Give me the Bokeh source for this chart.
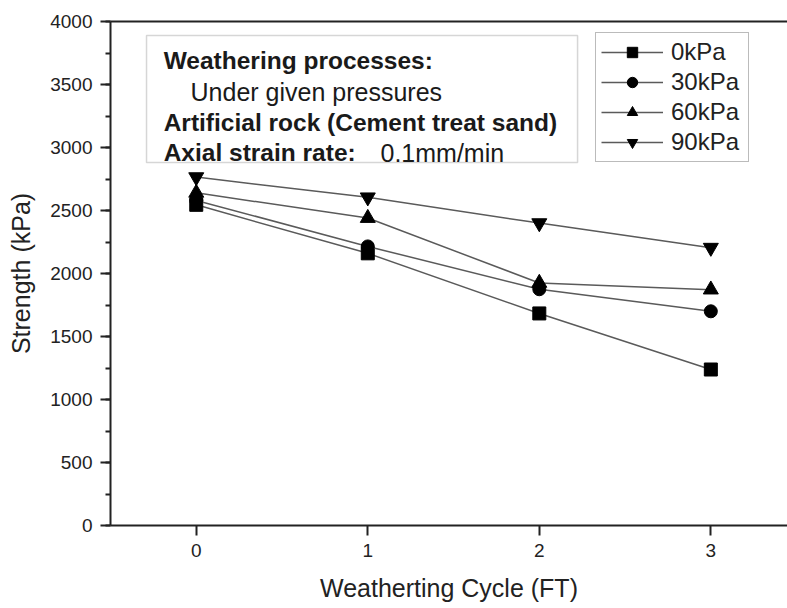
from bokeh.plotting import figure
from bokeh.models import (Range1d, LinearAxis, FixedTicker, SingleIntervalTicker,
                          BoxAnnotation, Label, Legend, LegendItem)
from bokeh.embed import file_html
from bokeh.resources import INLINE

# ---- data ----
cycles = [0, 1, 2, 3]
s_0kpa = [2545, 2160, 1683, 1238]
s_30kpa = [2580, 2215, 1875, 1700]
s_60kpa = [2640, 2440, 1925, 1872]
s_90kpa = [2765, 2605, 2400, 2205]
series_labels = ["0kPa", "30kPa", "60kPa", "90kPa"]
markers = ["square", "circle", "triangle", "inverted_triangle"]
y_ticks_major = 500
x_ticks = [0, 1, 2, 3]
box_lines = ["Weathering processes:", "Under given pressures",
             "Artificial rock (Cement treat sand)", "Axial strain rate:"]
rate_text = "0.1mm/min"

FONT = "Liberation Sans"

p = figure(width=787, height=608, output_backend="svg", toolbar_location=None,
           x_range=Range1d(-0.5, 3.447), y_range=Range1d(0, 4000),
           min_border_left=110, min_border_right=0, min_border_top=21,
           min_border_bottom=83)
p.outline_line_color = None
p.xgrid.visible = False
p.ygrid.visible = False
p.background_fill_color = "white"
p.border_fill_color = "white"

# axes styling
for ax in (p.xaxis[0], p.yaxis[0]):
    ax.axis_line_width = 2
    ax.axis_line_color = "#222222"
    ax.major_tick_line_width = 2
    ax.major_tick_line_color = "#222222"
    ax.minor_tick_line_width = 2
    ax.minor_tick_line_color = "#222222"
    ax.major_tick_in = 0
    ax.major_tick_out = 10
    ax.minor_tick_in = 0
    ax.minor_tick_out = 5
    ax.major_label_text_font = FONT
    ax.major_label_text_font_size = "19px"
    ax.major_label_text_color = "#222222"
    ax.axis_label_text_font = FONT
    ax.axis_label_text_font_size = "25px"
    ax.axis_label_text_font_style = "normal"
    ax.axis_label_text_color = "#222222"

p.xaxis[0].ticker = FixedTicker(ticks=x_ticks, minor_ticks=[])
p.xaxis[0].axis_label = "Weatherting Cycle (FT)"
p.xaxis[0].major_label_standoff = 8
p.xaxis[0].axis_label_standoff = 14

p.yaxis[0].ticker = SingleIntervalTicker(interval=y_ticks_major, num_minor_ticks=2)
p.yaxis[0].axis_label = "Strength (kPa)"
p.yaxis[0].major_label_standoff = 8
p.yaxis[0].axis_label_standoff = 12

top_axis = LinearAxis(ticker=FixedTicker(ticks=[]), axis_line_width=2,
                      axis_line_color="#222222", major_tick_out=0, minor_tick_out=0,
                      major_label_text_font_size="0px")
p.add_layout(top_axis, "above")

# ---- series ----
all_series = [s_0kpa, s_30kpa, s_60kpa, s_90kpa]
sizes = [13, 13, 15, 15]
items = []
for vals, lab, mk, sz in zip(all_series, series_labels, markers, sizes):
    lr = p.line(cycles, vals, line_color="#5a5a5a", line_width=1.5)
    sr = p.scatter(cycles, vals, marker=mk, size=sz, fill_color="black",
                   line_color="black")
    items.append(LegendItem(label=lab, renderers=[lr, sr]))

legend = Legend(items=items, location=(485, 363), glyph_width=62, glyph_height=26,
                label_standoff=8, label_width=72, spacing=2, padding=5,
                label_text_font=FONT, label_text_font_size="24px",
                label_text_color="#222222",
                border_line_color="#777777", border_line_width=1.5,
                background_fill_alpha=0)
p.add_layout(legend)

# ---- text box ----
p.add_layout(BoxAnnotation(left=-0.290, right=2.223, top=3889, bottom=2881,
                           fill_alpha=0, line_color="#777777", line_width=1.5))

label_pos = [(-0.190, 3690, "bold", "24.5px"), (-0.0335, 3437, "normal", "25px"),
             (-0.190, 3198, "bold", "24.5px"), (-0.190, 2960, "bold", "24.5px")]
for txt, (lx, ly, style, fs) in zip(box_lines, label_pos):
    p.add_layout(Label(x=lx, y=ly, text=txt, text_font=FONT, text_font_size=fs,
                       text_font_style=style, text_color="#1a1a1a",
                       text_baseline="alphabetic"))
p.add_layout(Label(x=1.074, y=2960, text=rate_text, text_font=FONT,
                   text_font_size="25px", text_color="#1a1a1a",
                   text_baseline="alphabetic"))

# panel tag
p.add_layout(Label(x=-0.5, y=0, x_offset=-36, y_offset=-51, text="(a)",
                   text_font="Liberation Serif", text_font_size="30px",
                   text_color="#1a1a1a", text_baseline="alphabetic"))

open("out.html", "w").write(file_html(p, INLINE))
